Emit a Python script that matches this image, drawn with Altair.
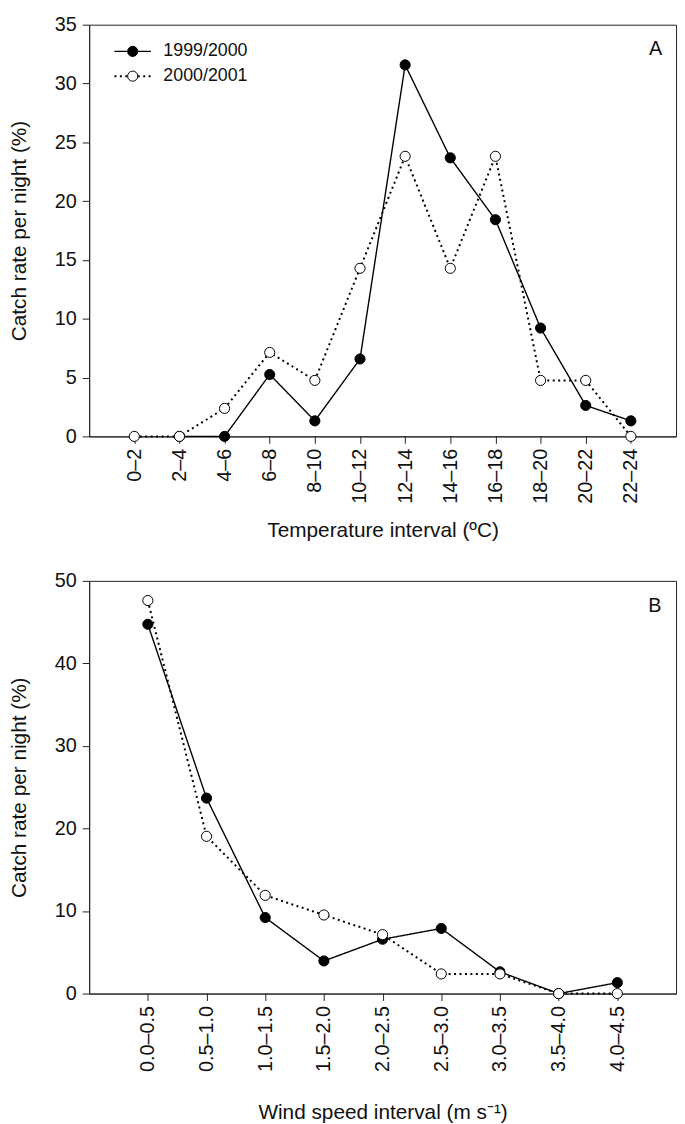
import altair as alt
import pandas as pd

FONT = "Liberation Sans"

temp_labels = ["0–2", "2–4", "4–6", "6–8", "8–10", "10–12", "12–14",
               "14–16", "16–18", "18–20", "20–22", "22–24"]
temp_1999 = [None, 0, 0, 5.26, 1.32, 6.58, 31.58, 23.68, 18.42, 9.21, 2.63, 1.32]
temp_2000 = [0, 0, 2.38, 7.14, 4.76, 14.29, 23.81, 14.29, 23.81, 4.76, 4.76, 0]

wind_labels = ["0.0–0.5", "0.5–1.0", "1.0–1.5", "1.5–2.0", "2.0–2.5",
               "2.5–3.0", "3.0–3.5", "3.5–4.0", "4.0–4.5"]
wind_1999 = [44.74, 23.68, 9.21, 3.95, 6.58, 7.89, 2.63, 0, 1.32]
wind_2000 = [47.62, 19.05, 11.90, 9.52, 7.14, 2.38, 2.38, 0, 0]

seasons = ["1999/2000", "2000/2001"]
marker_keys = ["marker 1999/2000", "marker 2000/2001"]


def to_df(labels, s1, s2):
    rows = []
    for season, key, vals in zip(seasons, marker_keys, [s1, s2]):
        for lab, v in zip(labels, vals):
            if v is not None:
                rows.append({"interval": lab, "season": season,
                             "marker": key, "value": v})
    return pd.DataFrame(rows)


def panel(df, labels, ymax, ystep, xtitle, letter, letter_dx, show_legend,
          x_title_pad, height):
    x = alt.X("interval:N", sort=labels,
              scale=alt.Scale(type="point", padding=1),
              axis=alt.Axis(title=xtitle, labelAngle=270, titlePadding=x_title_pad))
    y = alt.Y("value:Q", scale=alt.Scale(domain=[0, ymax], nice=False, zero=True),
              axis=alt.Axis(title="Catch rate per night (%)",
                            values=list(range(0, ymax + 1, ystep)), titlePadding=25))
    if show_legend:
        dash_legend = alt.Legend(orient="none", legendX=35, legendY=18, title=None,
                                 symbolType="M-3.6,0H-1M1,0H3.6", symbolSize=105,
                                 symbolStrokeColor="black", symbolStrokeWidth=1.5,
                                 labelFontSize=18, labelFont=FONT, labelColor="#111",
                                 labelOffset=22, rowPadding=7, zindex=1)
        fill_legend = alt.Legend(orient="none", legendX=35, legendY=18, title=None,
                                 symbolType="circle", symbolSize=105,
                                 symbolStrokeColor="black", symbolStrokeWidth=1,
                                 labelFontSize=18, labelFont=FONT, labelOpacity=0,
                                 labelExpr="''", labelOffset=22, rowPadding=7,
                                 symbolLimit=0, zindex=2)
    else:
        dash_legend = None
        fill_legend = None

    base = alt.Chart(df)
    lines = base.mark_line(color="black").encode(
        x=x, y=y,
        strokeDash=alt.StrokeDash("season:N",
                                  scale=alt.Scale(domain=seasons, range=[[1, 0], [2, 3.5]]),
                                  legend=dash_legend),
        strokeWidth=alt.StrokeWidth("season:N",
                                    scale=alt.Scale(domain=seasons, range=[1.4, 2.0]),
                                    legend=None),
        order=alt.Order("season:N"),
    )
    pts = base.mark_point(shape="circle", filled=True, stroke="black",
                          strokeWidth=1, size=105, opacity=1).encode(
        x=x, y=y,
        fill=alt.Fill("marker:N",
                      scale=alt.Scale(domain=marker_keys, range=["black", "white"]),
                      legend=fill_legend),
        order=alt.Order("marker:N"),
    )
    tag = alt.Chart(pd.DataFrame({"t": [letter]})).mark_text(
        font=FONT, fontSize=20, color="#111", align="center", baseline="middle",
        dx=letter_dx, dy=25,
    ).encode(
        x=alt.X(datum=labels[-1], type="nominal"),
        y=alt.Y(datum=ymax, type="quantitative"),
        text="t:N",
    )
    return alt.layer(lines, pts, tag).properties(width=593, height=height)


df_t = to_df(temp_labels, temp_1999, temp_2000)
df_w = to_df(wind_labels, wind_1999, wind_2000)

top = panel(df_t, temp_labels, 35, 5, "Temperature interval (ºC)", "A", 25, True, 17, 416)
bottom = panel(df_w, wind_labels, 50, 10, "Wind speed interval (m s⁻¹)", "B", 38, False, 31, 417)

chart = alt.vconcat(top, bottom, spacing=28).resolve_scale(
    strokeDash="independent", fill="independent", strokeWidth="independent"
).properties(
    padding={"left": 0, "top": 0, "right": 0, "bottom": 0}
).configure_view(
    stroke="#222", strokeWidth=1
).configure_axis(
    domainColor="#222", domainWidth=1, tickColor="#222", tickSize=7, tickWidth=1,
    labelFont=FONT, labelFontSize=20, labelColor="#111", labelPadding=6,
    titleFont=FONT, titleFontSize=21, titleFontWeight="normal", titleColor="#111",
    grid=False,
).configure_axisX(
    labelPadding=5
)

chart.save("out.html", embed_options={"renderer": "svg", "actions": False})
